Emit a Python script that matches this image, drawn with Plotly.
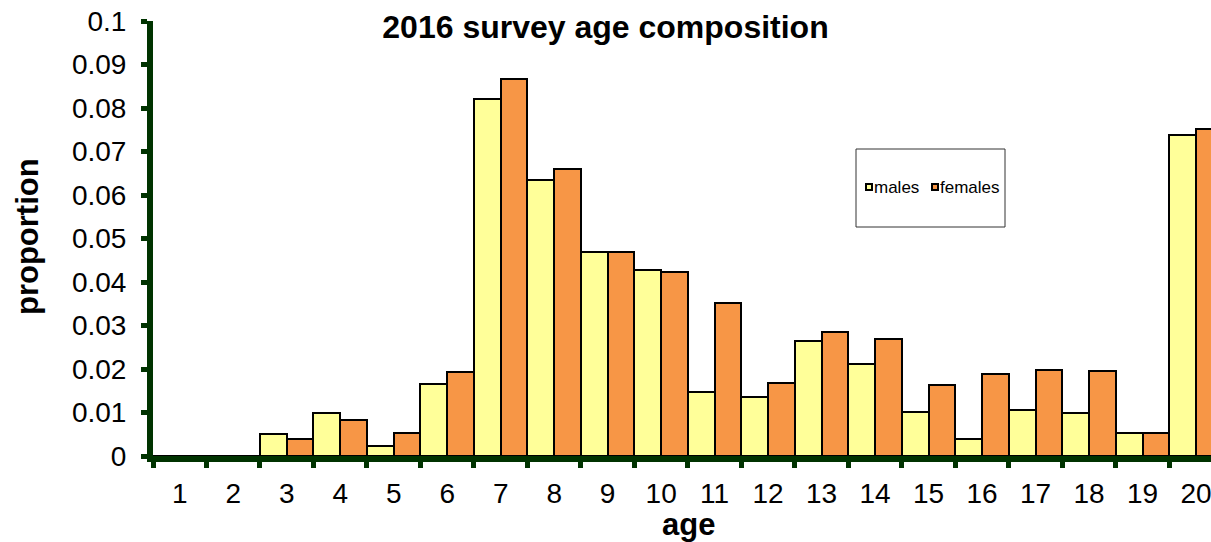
import plotly.graph_objects as go

ages = [str(a) for a in range(1, 21)]
males = [0.0, 0.0, 0.0050, 0.0100, 0.0023, 0.0166, 0.0821, 0.0634, 0.0468, 0.0427,
         0.0146, 0.0136, 0.0264, 0.0211, 0.0102, 0.0040, 0.0106, 0.0100, 0.0052, 0.0738]
females = [0.0, 0.0, 0.0038, 0.0083, 0.0052, 0.0192, 0.0866, 0.0660, 0.0469, 0.0423,
           0.0351, 0.0167, 0.0286, 0.0268, 0.0163, 0.0189, 0.0198, 0.0195, 0.0052, 0.0752]
y_ticks = [0, 0.01, 0.02, 0.03, 0.04, 0.05, 0.06, 0.07, 0.08, 0.09, 0.1]
y_labels = ["0", "0.01", "0.02", "0.03", "0.04", "0.05", "0.06", "0.07", "0.08", "0.09", "0.1"]
series_names = ["males", "females"]
series_colors = ["#FFFF99", "#F79646"]

FONT = "Liberation Sans, Arial, sans-serif"
AXIS = "#003300"

fig = go.Figure()
for name, vals, col in zip(series_names, [males, females], series_colors):
    fig.add_trace(go.Bar(x=ages, y=vals, name=name,
                         marker=dict(color=col, line=dict(color="black", width=2))))

W, H = 1211, 542
L, R, T, B = 153, 0, 21, 86
pw = W - L - R
ph = H - T - B

def px_x(p):
    return (p - L) / pw

def px_y(p):
    return (H - B - p) / ph

# legend box + entries (drawn manually to match the compact original legend)
shapes = [dict(type="rect", xref="paper", yref="paper",
               x0=px_x(856), x1=px_x(1005), y0=px_y(227), y1=px_y(149),
               line=dict(color="#333333", width=1), fillcolor="white", layer="below")]
annotations = []
legend_sym_x = [865, 931]
for name, col, sx in zip(series_names, series_colors, legend_sym_x):
    shapes.append(dict(type="rect", xref="paper", yref="paper",
                       x0=px_x(sx + 1), x1=px_x(sx + 7), y0=px_y(190), y1=px_y(184),
                       line=dict(color="black", width=2), fillcolor=col, layer="above"))
    annotations.append(dict(text=name, xref="paper", yref="paper", x=px_x(sx + 8), y=px_y(188),
                            xanchor="left", yanchor="middle", showarrow=False, borderpad=0,
                            font=dict(size=17, family=FONT, color="black")))

annotations += [
    dict(text="<b>proportion</b>", xref="paper", yref="paper", x=px_x(27), y=px_y(237),
         xanchor="center", yanchor="middle", textangle=-90, showarrow=False,
         font=dict(size=31, family=FONT, color="black")),
    dict(text="<b>age</b>", xref="paper", yref="paper", x=px_x(688), y=px_y(524),
         xanchor="center", yanchor="middle", showarrow=False,
         font=dict(size=31, family=FONT, color="black")),
]

fig.update_layout(
    width=W, height=H,
    margin=dict(l=L, r=R, t=T, b=B, pad=0),
    paper_bgcolor="white", plot_bgcolor="white",
    barmode="group", bargap=0, bargroupgap=0,
    font=dict(family=FONT, color="black"),
    title=dict(text="<b>2016 survey age composition</b>", x=0.5, xref="container",
               xanchor="center", y=1 - 27 / H, yref="container", yanchor="middle",
               font=dict(size=32, family=FONT, color="black")),
    showlegend=False,
    xaxis=dict(type="category", range=[-0.5, 19.28], showline=True, linecolor=AXIS, linewidth=6,
               ticks="outside", tickson="boundaries", ticklen=6, tickwidth=5, tickcolor=AXIS,
               tickfont=dict(size=28, family=FONT, color="black"), ticklabelstandoff=7,
               showgrid=False, zeroline=False, fixedrange=True),
    yaxis=dict(range=[0, 0.1], tickmode="array", tickvals=y_ticks, ticktext=y_labels,
               showline=True, linecolor=AXIS, linewidth=6,
               ticks="outside", ticklen=6, tickwidth=5, tickcolor=AXIS,
               tickfont=dict(size=28, family=FONT, color="black"), ticklabelstandoff=9,
               showgrid=False, zeroline=False, fixedrange=True),
    shapes=shapes,
    annotations=annotations,
)

fig.write_html("out.html", config={"displayModeBar": False},
               post_script="document.body.style.margin='0';document.body.style.overflow='hidden';")
